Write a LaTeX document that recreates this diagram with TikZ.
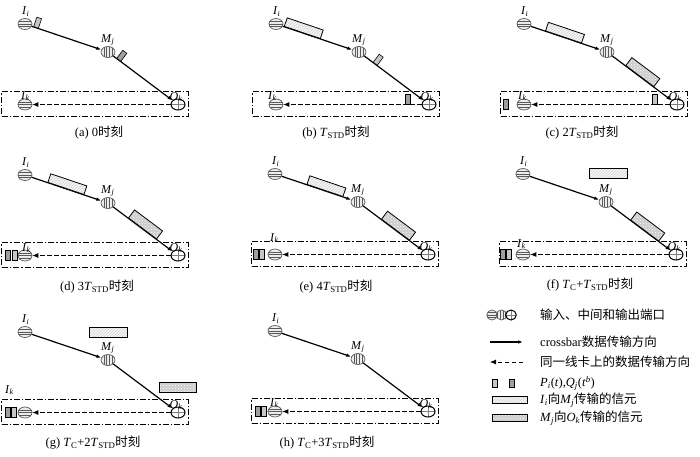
\documentclass[tikz,border=0pt]{standalone}
\usepackage{fontspec}
\setmainfont{Liberation Serif}
\newfontfamily\cjkfont{Noto Sans CJK SC}
\usetikzlibrary{shapes.geometric,patterns,arrows.meta}
\newcommand\zhtext[1]{{\cjkfont #1}}
\newcommand\portlab[2]{\textit{#1}\textsubscript{\textit{#2}}}
\newcommand\tstd{\textit{T}\textsubscript{STD}}
\newcommand\tcc{\textit{T}\textsubscript{C}}
\tikzset{
  portbase/.style={ellipse, minimum width=14pt, minimum height=11pt, inner sep=0pt, line width=0.7pt},
  portI/.style={portbase, draw=gray!70!black, fill=gray!15,
    path picture={\foreach \d in {-2.7,0,2.7}{\draw[gray!70!black, line width=0.5pt] ([yshift=\d pt]path picture bounding box.west) -- ([yshift=\d pt]path picture bounding box.east);}}},
  portM/.style={portbase, draw=gray!70!black, fill=gray!15,
    path picture={\foreach \d in {-4.2,-1.4,1.4,4.2}{\draw[gray!70!black, line width=0.5pt] ([xshift=\d pt]path picture bounding box.north) -- ([xshift=\d pt]path picture bounding box.south);}}},
  portO/.style={portbase, draw=black, line width=1pt, fill=white,
    path picture={\draw[gray, line width=0.5pt] (path picture bounding box.west) -- (path picture bounding box.east) (path picture bounding box.north) -- (path picture bounding box.south);}},
  lbl/.style={font=\fontsize{12}{14}\selectfont, inner sep=0pt, anchor=base west},
  capt/.style={font=\fontsize{12.5}{14}\selectfont, inner sep=0pt},
  legt/.style={font=\fontsize{12.5}{14}\selectfont, inner sep=0pt, anchor=west},
  conn/.style={line width=1.2pt, -{Latex[length=5pt,width=3.6pt]}},
  lc/.style={line width=0.8pt, dash pattern=on 4.5pt off 2.5pt, -{Latex[length=6pt,width=5pt]}},
  lcbox/.style={draw, line width=0.8pt, dash pattern=on 6pt off 2pt on 1.5pt off 2pt, minimum width=186.5pt, minimum height=24.5pt, inner sep=0pt},
  cellA/.style={draw, line width=0.8pt, preaction={fill=gray!6}, pattern=north east lines, pattern color=gray!38, minimum width=38pt, minimum height=9pt, inner sep=0pt},
  cellB/.style={draw, line width=0.8pt, preaction={fill=gray!40}, pattern=crosshatch dots, pattern color=white, minimum width=35pt, minimum height=10pt, inner sep=0pt},
  pkP/.style={draw, line width=0.6pt, fill=gray!45, minimum width=5pt, minimum height=10pt, inner sep=0pt},
  pkQ/.style={draw, line width=0.6pt, fill=gray!75, minimum width=5pt, minimum height=10pt, inner sep=0pt},
}
\newcommand\panelbase[1]{%
  \node[lcbox] (box) at (94.75,104) {};
  \node[portI] (I) at (25,24) {};
  \node[portM] (M) at (108,52) {};
  \node[portO] (O) at (178,104.5) {};
  \node[portI] (K) at (25,104.5) {};
  \node[lbl] (LI) at (22,14.5) {\portlab{I}{i}};
  \node[lbl] (LM) at (101,42) {\portlab{M}{j}};
  \node[lbl] (LO) at (169.5,100) {\portlab{O}{k}};
  \node[lbl] (LK) at (#1) {\portlab{I}{k}};
  \draw[conn] (I) -- (M);
  \draw[conn] (M) -- (O);
  \draw[lc] (O) -- (K);
}
\begin{document}
\begin{tikzpicture}[x=1pt,y=-1pt]
\fill[white] (0,0) rectangle (700,456);
\useasboundingbox (0,0) rectangle (700,456);
% (a)
\begin{scope}[shift={(0,0)}, name prefix=a-]
  \panelbase{21,99}
  \path (I) -- (M) node[pkP, sloped, pos=0.06, anchor=south] (p) {};
  \path (M) -- (O) node[pkQ, sloped, pos=0.09, anchor=south] (q) {};
  \node[capt] (cap) at (99,133) {(a)\ 0\zhtext{时刻}};
\end{scope}
% (b)
\begin{scope}[shift={(251,0)}, name prefix=b-]
  \panelbase{17,99}
  \path (I) -- (M) node[cellA, sloped, pos=0.28, anchor=south] (c1) {};
  \path (M) -- (O) node[pkP, sloped, pos=0.18, anchor=south] (p) {};
  \node[pkQ, anchor=south] (q) at (156.5,104.5) {};
  \node[capt] (cap) at (85,133) {(b)\ \tstd\zhtext{时刻}};
\end{scope}
% (c)
\begin{scope}[shift={(499,0)}, name prefix=c-]
  \panelbase{19,99}
  \path (I) -- (M) node[cellA, sloped, pos=0.47, anchor=south] (c1) {};
  \path (M) -- (O) node[cellB, sloped, pos=0.46, anchor=south] (c2) {};
  \node[pkP, anchor=south] (p) at (155.5,104.5) {};
  \node[pkQ] (q) at (7,104.5) {};
  \node[capt] (cap) at (83,133) {(c)\ 2\tstd\zhtext{时刻}};
\end{scope}
% (d)
\begin{scope}[shift={(0,151)}, name prefix=d-]
  \panelbase{22,100}
  \path (I) -- (M) node[cellA, sloped, pos=0.49, anchor=south] (c1) {};
  \path (M) -- (O) node[cellB, sloped, pos=0.49, anchor=south] (c2) {};
  \node[pkQ] (q) at (7.5,104.5) {};
  \node[pkP] (p) at (14.5,104.5) {};
  \node[capt] (cap) at (97,136) {(d)\ 3\tstd\zhtext{时刻}};
\end{scope}
% (e)
\begin{scope}[shift={(250,150)}, name prefix=e-]
  \panelbase{20,91}
  \path (I) -- (M) node[cellA, sloped, pos=0.62, anchor=south] (c1) {};
  \path (M) -- (O) node[cellB, sloped, pos=0.54, anchor=south] (c2) {};
  \node[pkQ] (q) at (5.5,104.5) {};
  \node[pkP] (p) at (11.5,104.5) {};
  \node[capt] (cap) at (86,137) {(e)\ 4\tstd\zhtext{时刻}};
\end{scope}
% (f)
\begin{scope}[shift={(498,150)}, name prefix=f-]
  \panelbase{19,97}
  \node[cellA, minimum height=10pt] (c1) at (110,23) {};
  \path (M) -- (O) node[cellB, sloped, pos=0.56, anchor=south] (c2) {};
  \node[pkQ] (q) at (5,104.5) {};
  \node[pkP] (p) at (11,104.5) {};
  \node[capt] (cap) at (92,135) {(f)\ \tcc+\tstd\zhtext{时刻}};
\end{scope}
% (g)
\begin{scope}[shift={(0,308)}, name prefix=g-]
  \panelbase{5,85}
  \node[cellA, minimum height=10pt] (c1) at (108,24) {};
  \node[cellB, minimum width=37pt, minimum height=10pt] (c2) at (178,79) {};
  \node[pkQ] (q) at (7.5,104.5) {};
  \node[pkP] (p) at (13.5,104.5) {};
  \node[capt] (cap) at (93,135) {(g)\ \tcc+2\tstd\zhtext{时刻}};
\end{scope}
% (h)
\begin{scope}[shift={(250,307)}, name prefix=h-]
  \panelbase{20,99}
  \node[pkQ] (q) at (8,104.5) {};
  \node[pkP] (p) at (13.5,104.5) {};
  \node[capt] (cap) at (77,136) {(h)\ \tcc+3\tstd\zhtext{时刻}};
\end{scope}
% legend
\node[portI, minimum width=10.5pt, minimum height=10pt] (lg1) at (492,315) {};
\node[portM, minimum width=10.5pt, minimum height=10pt] (lg2) at (501.5,315) {};
\node[portO, minimum width=10.5pt, minimum height=10pt] (lg3) at (511,315) {};
\node[legt] (lt1) at (540,315) {\zhtext{输入、中间和输出端口}};
\coordinate (la1) at (490,342);
\coordinate (la2) at (523,342);
\draw[conn] (la1) -- (la2);
\node[legt] (lt2) at (540,342) {crossbar\zhtext{数据传输方向}};
\coordinate (lb1) at (523,362);
\coordinate (lb2) at (490,362);
\draw[lc] (lb1) -- (lb2);
\node[legt] (lt3) at (540,362) {\zhtext{同一线卡上的数据传输方向}};
\node[pkP, minimum height=8pt] (lp) at (494.5,383) {};
\node[pkQ, minimum height=8pt] (lq) at (512,383) {};
\node[legt] (lt4) at (540,383) {\portlab{P}{i}(\textit{t}),\portlab{Q}{j}(\textit{t}\textsuperscript{\textit{b}})};
\node[cellA, minimum width=35pt, minimum height=6.5pt] (lc1) at (509.5,400) {};
\node[legt] (lt5) at (540,400) {\portlab{I}{i}\zhtext{向}\portlab{M}{j}\zhtext{传输的信元}};
\node[cellB, minimum width=35pt, minimum height=7pt] (lc2) at (509.5,418) {};
\node[legt] (lt6) at (540,418) {\portlab{M}{j}\zhtext{向}\portlab{O}{k}\zhtext{传输的信元}};
\end{tikzpicture}
\end{document}
